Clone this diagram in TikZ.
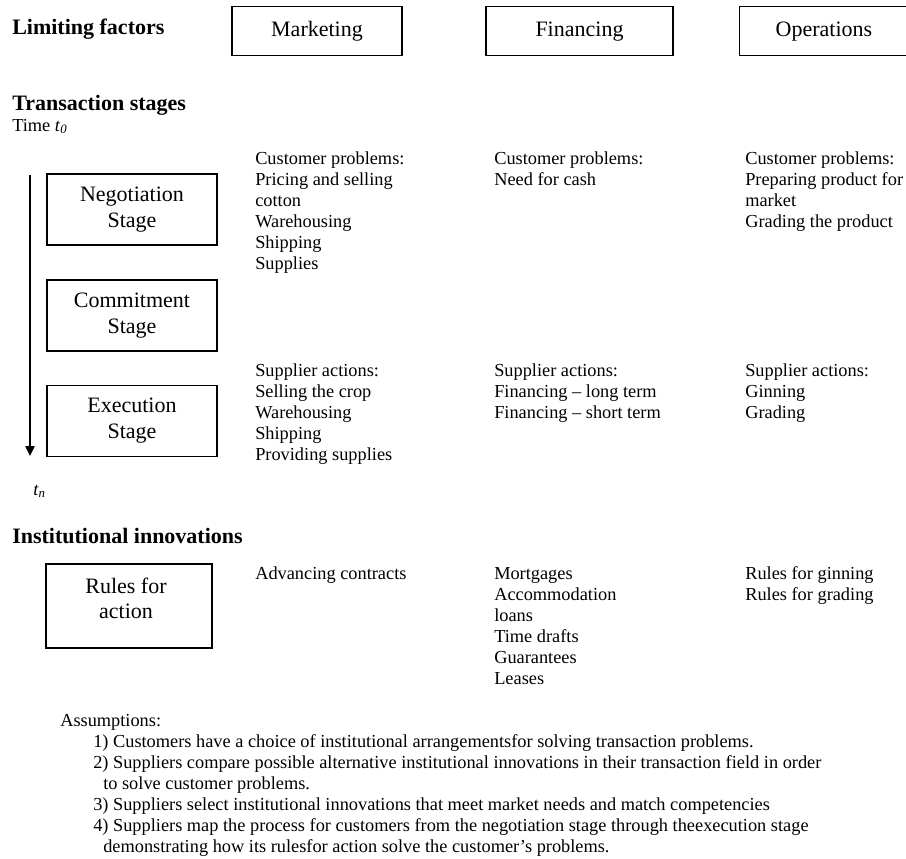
\documentclass[tikz,border=0pt]{standalone}
\usepackage{fontspec}
\setmainfont{Liberation Serif}
\usetikzlibrary{arrows.meta}
\tikzset{
  head/.style={font=\fontsize{16.5}{19.8}\selectfont\bfseries, anchor=base west, inner sep=0pt},
  txt/.style={font=\fontsize{13.75}{15.75}\selectfont, anchor=base west, inner sep=0pt},
  boxtxt/.style={font=\fontsize{16.5}{19.5}\selectfont, anchor=base, inner sep=0pt},
  factor/.style={draw, line width=1pt, minimum height=36.75pt, inner sep=0pt, font=\fontsize{16.5}{19.5}\selectfont},
  stagebox/.style={draw, line width=1pt, minimum width=127.5pt, minimum height=53.25pt, inner sep=0pt, align=center, font=\fontsize{16.5}{19.5}\selectfont},
}
\begin{document}
\begin{tikzpicture}[x=0.75pt, y=-0.75pt, >={Triangle[length=7.5pt,width=7pt]}]
  \useasboundingbox (0,0) rectangle (906,858);
  % limiting factors
  \node[head] (lim) at (12,34) {Limiting factors};
  \node[factor, minimum width=127.5pt] (mkt) at (317,31.2) {Marketing};
  \node[factor, minimum width=140.25pt] (fin) at (579.5,31.2) {Financing};
  \node[factor, minimum width=130pt] (ops) at (826,31.2) {\hspace*{-3pt}Operations};
  % transaction stages
  \node[head] (trans) at (12,110) {Transaction stages};
  \node[txt] (time0) at (12,131) {Time \textit{t}\textsubscript{\textit{0}}};
  \coordinate (t0) at (30,175);
  \coordinate (tn) at (30,456);
  \draw[line width=1pt, ->] (t0) -- (tn);
  \node[txt] (timen) at (33,495) {\textit{t}\textsubscript{\textit{n}}};
  \foreach \n/\a/\y in {nego/Negotiation/209.5, comm/Commitment/315.5, exec/Execution/421}
    \node[stagebox] (\n) at (132,\y) {\a\\Stage};
  % customer problems
  \foreach \t [count=\i from 0] in {Customer problems:, Pricing and selling, cotton, Warehousing, Shipping, Supplies}
    \node[txt] (mkt-p\i) at (255,164+21*\i) {\t};
  \foreach \t [count=\i from 0] in {Customer problems:, Need for cash}
    \node[txt] (fin-p\i) at (494,164+21*\i) {\t};
  \foreach \t [count=\i from 0] in {Customer problems:, Preparing product for, market, Grading the product}
    \node[txt] (ops-p\i) at (745,164+21*\i) {\t};
  % supplier actions
  \foreach \t [count=\i from 0] in {Supplier actions:, Selling the crop, Warehousing, Shipping, Providing supplies}
    \node[txt] (mkt-a\i) at (255,376+21*\i) {\t};
  \foreach \t [count=\i from 0] in {Supplier actions:, Financing – long term, Financing – short term}
    \node[txt] (fin-a\i) at (494,376+21*\i) {\t};
  \foreach \t [count=\i from 0] in {Supplier actions:, Ginning, Grading}
    \node[txt] (ops-a\i) at (745,376+21*\i) {\t};
  % institutional innovations
  \node[head] (inst) at (12,543) {Institutional innovations};
  \node[stagebox, minimum width=124.5pt, minimum height=63pt] (rules) at (129,606) {};
  \node[boxtxt] (rules-1) at (126,593) {Rules for};
  \node[boxtxt] (rules-2) at (126,618) {action};
  \node[txt] (mkt-i0) at (255,579) {Advancing contracts};
  \foreach \t [count=\i from 0] in {Mortgages, Accommodation, loans, Time drafts, Guarantees, Leases}
    \node[txt] (fin-i\i) at (494,579+21*\i) {\t};
  \foreach \t [count=\i from 0] in {Rules for ginning, Rules for grading}
    \node[txt] (ops-i\i) at (745,579+21*\i) {\t};
  % assumptions
  \node[txt] (assume) at (60,726) {Assumptions:};
  \foreach \x/\t [count=\i from 0] in {
      93/1) Customers have a choice of institutional arrangementsfor solving transaction problems.,
      93/2) Suppliers compare possible alternative institutional innovations in their transaction field in order,
      103/to solve customer problems.,
      93/3) Suppliers select institutional innovations that meet market needs and match competencies,
      93/4) Suppliers map the process for customers from the negotiation stage through theexecution stage,
      103/demonstrating how its rulesfor action solve the customer’s problems.}
    \node[txt] (assume-\i) at (\x,747+21*\i) {\t};
\end{tikzpicture}
\end{document}
